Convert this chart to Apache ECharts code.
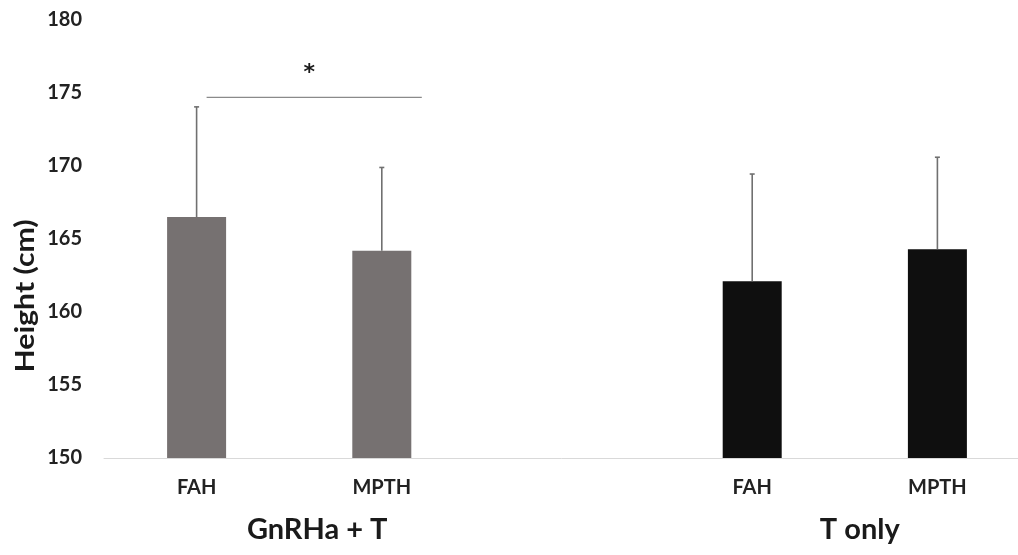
<!DOCTYPE html>
<html>
<head>
<meta charset="utf-8">
<script src="https://cdn.jsdelivr.net/npm/echarts@6/dist/echarts.min.js"></script>
<style>
  html, body { margin: 0; padding: 0; background: #fff; }
  #chart { width: 1018px; height: 555px; }
</style>
</head>
<body>
<div id="chart"></div>
<script>
// Category slots: two groups of two bars with an empty slot between them
const categories = ['FAH', 'MPTH', '', 'FAH', 'MPTH'];
const groupNames = ['GnRHa + T', 'T only'];

// Mean height (cm) and standard deviation per group
const gnrhaMeans = [166.5, 164.2];
const gnrhaSD = [7.55, 5.7];
const tOnlyMeans = [162.1, 164.3];
const tOnlySD = [7.35, 6.3];

// Significance bracket between the two GnRHa + T bars
const sigPair = [0, 1];
const sigLevel = 174.7;
const sigMark = '*';

const yTicks = { min: 150, max: 180, interval: 5 };

const FONT = 'Lato, "Open Sans", sans-serif';
const GREY_BAR = '#767171';
const BLACK_BAR = '#0f0f0f';
const ERR_COLOR = '#707070';

const gnrhaSeries = [gnrhaMeans[0], gnrhaMeans[1], '-', '-', '-'];
const tOnlySeries = ['-', '-', '-', tOnlyMeans[0], tOnlyMeans[1]];
const errData = [
  [0, gnrhaMeans[0], gnrhaSD[0]],
  [1, gnrhaMeans[1], gnrhaSD[1]],
  [3, tOnlyMeans[0], tOnlySD[0]],
  [4, tOnlyMeans[1], tOnlySD[1]]
];

const chart = echarts.init(document.getElementById('chart'), null, { renderer: 'canvas' });

chart.setOption({
  animation: false,
  backgroundColor: '#ffffff',
  grid: {
    left: 104, top: 20, width: 926, bottom: 97,
    containLabel: false,
    outerBoundsMode: 'none'
  },
  xAxis: {
    type: 'category',
    data: categories,
    axisLine: { show: true, lineStyle: { color: '#d9d9d9', width: 1 } },
    axisTick: { show: false },
    axisLabel: {
      margin: 20,
      fontFamily: FONT,
      fontWeight: 'bold',
      fontSize: 20,
      color: '#222222'
    },
    splitLine: { show: false }
  },
  yAxis: {
    type: 'value',
    min: yTicks.min,
    max: yTicks.max,
    interval: yTicks.interval,
    axisLine: { show: false },
    axisTick: { show: false },
    splitLine: { show: false },
    axisLabel: {
      margin: 22,
      fontFamily: FONT,
      fontWeight: 'bold',
      fontSize: 20,
      color: '#222222'
    }
  },
  series: [
    {
      name: groupNames[0],
      type: 'bar',
      data: gnrhaSeries,
      barWidth: 59,
      barGap: '-100%',
      itemStyle: { color: GREY_BAR },
      z: 2
    },
    {
      name: groupNames[1],
      type: 'bar',
      data: tOnlySeries,
      barWidth: 59,
      barGap: '-100%',
      itemStyle: { color: BLACK_BAR },
      z: 2
    },
    {
      // Upper error bars (mean + SD)
      type: 'custom',
      data: errData,
      z: 3,
      renderItem: function (params, api) {
        const idx = api.value(0);
        const mean = api.value(1);
        const sd = api.value(2);
        const base = api.coord([idx, mean]);
        const top = api.coord([idx, mean + sd]);
        return {
          type: 'group',
          children: [
            {
              type: 'line',
              shape: { x1: base[0], y1: base[1], x2: top[0], y2: top[1] },
              style: { stroke: ERR_COLOR, lineWidth: 1.6 }
            },
            {
              type: 'line',
              shape: { x1: top[0] - 2.5, y1: top[1], x2: top[0] + 2.5, y2: top[1] },
              style: { stroke: ERR_COLOR, lineWidth: 1.6 }
            }
          ]
        };
      }
    },
    {
      // Significance bracket and star
      type: 'custom',
      data: [[sigPair[0], sigPair[1], sigLevel]],
      z: 3,
      renderItem: function (params, api) {
        const a = api.coord([api.value(0), api.value(2)]);
        const b = api.coord([api.value(1), api.value(2)]);
        const x1 = a[0] + 10;
        const x2 = b[0] + 40;
        const mid = (x1 + x2) / 2 - 5;
        return {
          type: 'group',
          children: [
            {
              type: 'line',
              shape: { x1: x1, y1: a[1], x2: x2, y2: a[1] },
              style: { stroke: '#8a8a8a', lineWidth: 1.4 }
            },
            {
              type: 'text',
              x: mid,
              y: a[1] - 24,
              style: {
                text: sigMark,
                fontFamily: '"DejaVu Sans", sans-serif',
                fontWeight: 'bold',
                fontSize: 22,
                fill: '#1a1a1a',
                align: 'center',
                verticalAlign: 'middle'
              }
            }
          ]
        };
      }
    }
  ]
});

// Group titles beneath the category labels, and the y-axis title
function groupCenter(i0, i1) {
  const p0 = chart.convertToPixel({ xAxisIndex: 0 }, i0);
  const p1 = chart.convertToPixel({ xAxisIndex: 0 }, i1);
  return (p0 + p1) / 2;
}

chart.setOption({
  graphic: [
    {
      type: 'text',
      x: groupCenter(0, 1) + 28,
      y: 530,
      style: {
        text: groupNames[0],
        fontFamily: FONT,
        fontWeight: 'bold',
        fontSize: 29,
        fill: '#1a1a1a',
        align: 'center',
        verticalAlign: 'middle'
      }
    },
    {
      type: 'text',
      x: groupCenter(3, 4) + 15,
      y: 530,
      style: {
        text: groupNames[1],
        fontFamily: FONT,
        fontWeight: 'bold',
        fontSize: 29,
        fill: '#1a1a1a',
        align: 'center',
        verticalAlign: 'middle'
      }
    },
    {
      type: 'text',
      x: 25,
      y: 296,
      rotation: Math.PI / 2,
      scaleX: 1.12,
      style: {
        text: 'Height (cm)',
        fontFamily: FONT,
        fontWeight: 'bold',
        fontSize: 27,
        fill: '#1a1a1a',
        align: 'center',
        verticalAlign: 'middle'
      }
    }
  ]
});
</script>
</body>
</html>
